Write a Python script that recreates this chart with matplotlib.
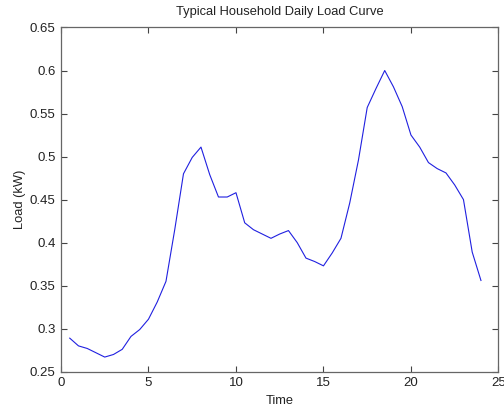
import matplotlib
matplotlib.use("Agg")
import matplotlib.pyplot as plt
from matplotlib.ticker import FixedLocator, FixedFormatter

time = [0.5, 1.0, 1.5, 2.0, 2.5, 3.0, 3.5, 4.0, 4.5, 5.0, 5.5, 6.0,
        6.5, 7.0, 7.5, 8.0, 8.5, 9.0, 9.5, 10.0, 10.5, 11.0, 11.5, 12.0,
        12.5, 13.0, 13.5, 14.0, 14.5, 15.0, 15.5, 16.0, 16.5, 17.0, 17.5, 18.0,
        18.5, 19.0, 19.5, 20.0, 20.5, 21.0, 21.5, 22.0, 22.5, 23.0, 23.5, 24.0]
load = [0.289, 0.280, 0.277, 0.272, 0.267, 0.270, 0.276, 0.291, 0.299, 0.311, 0.331, 0.355,
        0.415, 0.480, 0.499, 0.511, 0.479, 0.453, 0.453, 0.458, 0.423, 0.415, 0.410, 0.405,
        0.410, 0.414, 0.400, 0.382, 0.378, 0.373, 0.388, 0.405, 0.446, 0.496, 0.557, 0.579,
        0.600, 0.581, 0.558, 0.525, 0.511, 0.493, 0.486, 0.481, 0.467, 0.450, 0.389, 0.356]

xticks = [0, 5, 10, 15, 20, 25]
yticks = [0.25, 0.3, 0.35, 0.4, 0.45, 0.5, 0.55, 0.6, 0.65]
ytick_labels = ["0.25", "0.3", "0.35", "0.4", "0.45", "0.5", "0.55", "0.6", "0.65"]

plt.rcParams['font.family'] = ['Liberation Sans', 'DejaVu Sans']
fig = plt.figure(figsize=(5.04, 4.09), dpi=100)
ax = fig.add_axes([0.121, 0.0912, 0.868, 0.8416])
ax.plot(time, load, color='#2020e0', lw=0.8)
ax.set_xlim(0, 25)
ax.set_ylim(0.25, 0.65)
ax.xaxis.set_major_locator(FixedLocator(xticks))
ax.yaxis.set_major_locator(FixedLocator(yticks))
ax.yaxis.set_major_formatter(FixedFormatter(ytick_labels))
ax.tick_params(direction='in', length=4, width=0.8, top=True, right=True,
               labelsize=9.5, colors='#444444', labelcolor='#222222', pad=4)
for s in ax.spines.values():
    s.set_color('#666666')
    s.set_linewidth(0.9)
ax.set_title("Typical Household Daily Load Curve", fontsize=9.3, pad=9, color='#222222')
ax.set_xlabel("Time", fontsize=9.3, labelpad=4, color='#222222')
ax.set_ylabel("Load (kW)", fontsize=9.3, labelpad=3, color='#222222')
fig.savefig("out.png", dpi=100)
